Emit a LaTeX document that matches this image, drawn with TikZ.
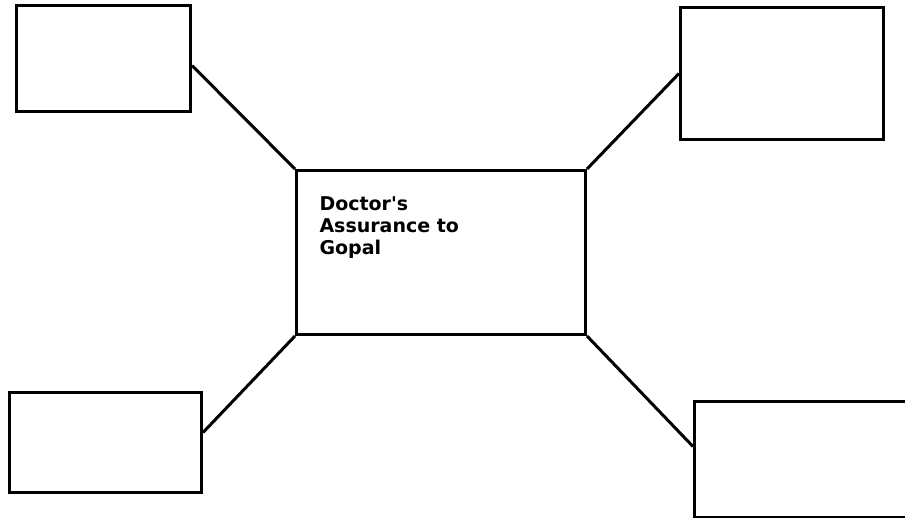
\documentclass[tikz,border=0pt]{standalone}
\usepackage{fontspec}
\setmainfont{DejaVu Sans}
\usepackage{tikz}

\begin{document}
\begin{tikzpicture}[x=1pt, y=-1pt, line width=3pt,
    box/.style={draw, rectangle, anchor=north west, inner sep=0pt},
    every node/.style={font=\bfseries\fontsize{19}{22}\selectfont}]
      \useasboundingbox (0,0) rectangle (905,517);
      \clip (0,0) rectangle (905,517);
      \node[box, minimum width=289pt, minimum height=164pt] (doc) at (295,169) {};
      \node[anchor=north west, inner sep=0pt, align=left] (title) at (318,195)
        {Doctor\textquotesingle s\\Assurance to\\Gopal};
      \node[box, minimum width=174pt, minimum height=106pt] (tl) at (15,4) {};
      \node[box, minimum width=203pt, minimum height=132pt] (tr) at (679,6) {};
      \node[box, minimum width=192pt, minimum height=100pt] (bl) at (8,391) {};
      \node[box, minimum width=230pt, minimum height=116pt] (br) at (693,400) {};
      \draw ([yshift=-7pt]tl.east) -- (doc.north west);
      \draw (tr.west) -- (doc.north east);
      \draw ([yshift=10pt]bl.east) -- (doc.south west);
      \draw ([yshift=13pt]br.west) -- (doc.south east);
    \end{tikzpicture}
\end{document}
